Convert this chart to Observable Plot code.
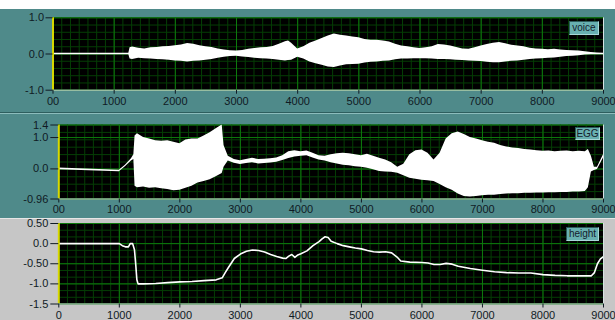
<!DOCTYPE html>
<html><head><meta charset="utf-8">
<script src="https://cdn.jsdelivr.net/npm/d3@7"></script>
<script src="https://cdn.jsdelivr.net/npm/@observablehq/plot@0.6"></script>
<style>
body{margin:0;width:615px;height:320px;background:#fff;position:relative;overflow:hidden;font-family:"Liberation Sans",Arial,sans-serif}
.panel{position:absolute;left:0;width:615px}
.panel svg{display:block;overflow:visible}
.tag{position:absolute;font-size:10px;line-height:12px;color:#14202c;background:#68b0b0;border:1px solid #2c5a5a;border-right-color:#a8d8d8;border-bottom-color:#a8d8d8;text-align:center;box-sizing:border-box}
</style></head><body>
<div id="p1" class="panel" style="top:9px;height:104px;background:#4f8a8a;border-bottom:1px solid #2e5e5e;box-sizing:border-box"></div>
<div id="p2" class="panel" style="top:113px;height:105px;background:#4f8a8a;border-top:1px solid #8cbcbc;box-sizing:border-box"></div>
<div id="p3" class="panel" style="top:218px;height:102px;background:#c6c6c6;border-top:1px solid #e6e6e6;box-sizing:border-box"></div>
<div class="tag" style="left:569px;top:21px;width:30px;height:14px">voice</div>
<div class="tag" style="left:575px;top:127px;width:25px;height:13px">EGG</div>
<div class="tag" style="left:566px;top:227px;width:33px;height:14px">height</div>
<script>
// ---- data ----
const xTickValues = [0,1000,2000,3000,4000,5000,6000,7000,8000,9000];
const xTickLabelsTop = ["00","1000","2000","3000","4000","5000","6000","7000","8000","9000"];
const xTickLabelsBottom = ["0","1000","2000","3000","4000","5000","6000","7000","8000","9000"];

const voiceTicks = [1.0, 0.0, -1.0];
const voiceTickLabels = ["1.0", "0.0", "-1.0"];
const eggTicks = [1.4, 1.0, 0.0, -0.96];
const eggTickLabels = ["1.4", "1.0", "0.0", "-0.96"];
const heightTicks = [0.5, 0.0, -0.5, -1.0, -1.5];
const heightTickLabels = ["0.50", "0.0", "-0.50", "-1.0", "-1.5"];

const voiceX = [0,1240,1260,1300,1400,1500,1600,1700,1800,1900,2000,2100,2200,2300,2400,2500,2600,2700,2800,2900,3000,3100,3200,3300,3400,3500,3600,3700,3800,3850,3900,4000,4100,4200,4300,4400,4500,4600,4700,4800,4900,5000,5100,5200,5300,5400,5500,5600,5700,5800,5900,6000,6100,6200,6300,6400,6500,6600,6700,6800,6900,7000,7100,7200,7300,7400,7500,7600,7700,7800,7900,8000,8100,8200,8300,8400,8500,8600,8700,8800,8900,9000];
const voiceUpper = [0.02,0.02,0.17,0.19,0.16,0.14,0.17,0.18,0.2,0.21,0.23,0.25,0.29,0.27,0.23,0.2,0.18,0.14,0.11,0.09,0.08,0.1,0.13,0.15,0.17,0.18,0.21,0.27,0.34,0.36,0.3,0.14,0.2,0.3,0.36,0.43,0.5,0.55,0.52,0.5,0.47,0.45,0.4,0.38,0.38,0.36,0.33,0.27,0.22,0.2,0.17,0.15,0.17,0.2,0.26,0.25,0.22,0.18,0.14,0.13,0.17,0.22,0.26,0.3,0.32,0.28,0.24,0.22,0.2,0.16,0.14,0.13,0.12,0.13,0.11,0.1,0.09,0.08,0.06,0.04,0.03,0.02];
const voiceLower = [-0.02,-0.02,-0.14,-0.15,-0.12,-0.13,-0.14,-0.15,-0.16,-0.17,-0.19,-0.2,-0.22,-0.2,-0.19,-0.17,-0.15,-0.12,-0.09,-0.07,-0.06,-0.08,-0.1,-0.12,-0.13,-0.14,-0.15,-0.17,-0.19,-0.18,-0.17,-0.09,-0.14,-0.22,-0.27,-0.31,-0.36,-0.37,-0.33,-0.3,-0.29,-0.28,-0.25,-0.23,-0.22,-0.2,-0.19,-0.16,-0.14,-0.14,-0.13,-0.13,-0.13,-0.14,-0.15,-0.15,-0.16,-0.17,-0.18,-0.19,-0.2,-0.21,-0.23,-0.24,-0.24,-0.22,-0.2,-0.19,-0.17,-0.15,-0.14,-0.13,-0.12,-0.11,-0.09,-0.07,-0.06,-0.05,-0.03,-0.02,-0.02,-0.02];

const eggX = [0,1000,1100,1200,1240,1260,1300,1400,1500,1600,1700,1800,1900,2000,2100,2200,2300,2400,2500,2600,2700,2730,2800,2900,3000,3100,3200,3300,3400,3500,3600,3700,3800,3900,4000,4100,4200,4300,4400,4500,4600,4700,4800,4900,5000,5100,5200,5300,5400,5500,5600,5700,5800,5900,6000,6100,6200,6300,6400,6500,6600,6700,6800,6900,7000,7100,7200,7300,7400,7500,7600,7700,7800,7900,8000,8100,8200,8300,8400,8500,8600,8700,8750,8800,8850,8900,9000];
const eggUpper = [0.03,-0.04,0.12,0.32,0.45,1.05,1.12,1.0,0.95,0.9,0.88,0.9,0.85,0.8,0.92,0.95,0.95,1.05,1.15,1.28,1.4,0.75,0.4,0.3,0.26,0.3,0.34,0.3,0.31,0.32,0.35,0.42,0.55,0.58,0.55,0.57,0.5,0.42,0.4,0.45,0.48,0.5,0.48,0.45,0.42,0.47,0.4,0.34,0.28,0.2,0.05,0.15,0.45,0.58,0.6,0.5,0.28,0.5,0.95,1.12,1.18,1.1,1.0,0.95,0.9,0.85,0.82,0.75,0.7,0.67,0.65,0.62,0.6,0.58,0.56,0.57,0.55,0.56,0.57,0.55,0.56,0.55,0.62,0.4,0.05,0.05,0.45];
const eggLower = [-0.03,-0.09,0.07,0.25,0.3,-0.55,-0.6,-0.58,-0.62,-0.6,-0.63,-0.66,-0.7,-0.68,-0.62,-0.55,-0.45,-0.4,-0.35,-0.25,-0.15,0.05,0.25,0.18,0.14,0.17,0.2,0.16,0.17,0.19,0.21,0.27,0.33,0.38,0.4,0.42,0.35,0.28,0.25,0.2,0.16,0.12,0.1,0.07,0.05,0.02,-0.03,-0.08,-0.1,-0.11,-0.14,-0.22,-0.3,-0.33,-0.36,-0.38,-0.4,-0.5,-0.6,-0.68,-0.8,-0.88,-0.9,-0.88,-0.86,-0.84,-0.84,-0.82,-0.8,-0.79,-0.79,-0.78,-0.78,-0.77,-0.77,-0.76,-0.76,-0.75,-0.75,-0.74,-0.74,-0.72,-0.6,-0.1,-0.05,-0.02,0.35];

const heightX = [0,1000,1050,1100,1150,1180,1220,1250,1270,1290,1310,1400,1600,1800,2000,2200,2400,2600,2700,2750,2800,2900,3000,3100,3200,3300,3400,3500,3600,3700,3750,3800,3850,3900,3950,4000,4100,4200,4300,4350,4400,4450,4500,4600,4700,4800,4900,5000,5100,5200,5300,5400,5500,5600,5650,5800,6000,6100,6200,6300,6400,6500,6600,6800,7000,7200,7400,7600,7800,8000,8200,8400,8600,8800,8850,8900,8950,9000];
const heightY = [0,0,-0.05,-0.08,-0.08,0.0,0.0,-0.15,-0.5,-0.9,-1.0,-1.0,-0.99,-0.97,-0.95,-0.94,-0.92,-0.9,-0.85,-0.72,-0.6,-0.37,-0.26,-0.19,-0.16,-0.17,-0.21,-0.27,-0.32,-0.36,-0.37,-0.31,-0.27,-0.34,-0.28,-0.25,-0.18,-0.05,0.05,0.12,0.17,0.15,0.06,0.0,-0.05,-0.08,-0.11,-0.13,-0.17,-0.2,-0.21,-0.2,-0.23,-0.35,-0.43,-0.46,-0.47,-0.48,-0.52,-0.52,-0.49,-0.51,-0.56,-0.62,-0.66,-0.7,-0.72,-0.73,-0.73,-0.77,-0.79,-0.8,-0.8,-0.8,-0.72,-0.5,-0.38,-0.32];

// ---- tables built from arrays ----
const voiceData = voiceX.map((x, i) => ({x, lo: voiceLower[i], hi: voiceUpper[i]}));
const eggData = eggX.map((x, i) => ({x, lo: eggLower[i], hi: eggUpper[i]}));
const heightData = heightX.map((x, i) => ({x, y: heightY[i]}));

const MINOR = "#053e05", MAJOR = "#0d7a0d";

function makePanel({height, mt, mb, ml, yDomain, yTicks, yLabels, yDiv, xLabels, ySize, yPad, xPad, signal}) {
  const xMinor = d3.range(0, 63).map(k => k * 9000 / 63);
  const yMinor = d3.range(0, yDiv + 1).map(k => yDomain[0] + k * (yDomain[1] - yDomain[0]) / yDiv);
  return Plot.plot({
    width: 615, height,
    marginTop: mt, marginBottom: mb, marginLeft: ml, marginRight: 12,
    x: {domain: [0, 9000], label: null},
    y: {domain: yDomain, label: null},
    style: {background: "transparent", color: "#101a24", fontFamily: "'Liberation Sans', Arial, sans-serif", fontSize: "11px", overflow: "visible"},
    marks: [
      Plot.frame({fill: "black"}),
      Plot.ruleX(xMinor, {stroke: MINOR, strokeWidth: 1}),
      Plot.ruleY(yMinor, {stroke: MINOR, strokeWidth: 1}),
      Plot.ruleX(xTickValues, {stroke: MAJOR, strokeWidth: 1}),
      Plot.ruleY(yTicks, {stroke: MAJOR, strokeWidth: 1}),
      ...signal,
      Plot.ruleX([0], {stroke: "#d8d800", strokeWidth: 2}),
      Plot.frame({anchor: "bottom", stroke: "#d6e2e2"}),
      Plot.frame({anchor: "right", stroke: "#d6e2e2"}),
      Plot.axisX(xTickValues, {tickFormat: d => xLabels[xTickValues.indexOf(d)], tickSize: 4, tickPadding: xPad, label: null}),
      Plot.axisY(yTicks, {tickFormat: d => yLabels[yTicks.indexOf(d)], tickSize: ySize, tickPadding: yPad, label: null})
    ]
  });
}

document.getElementById("p1").append(makePanel({
  height: 104, mt: 8.3, mb: 23.3, ml: 52.5,
  yDomain: [-1, 1], yTicks: voiceTicks, yLabels: voiceTickLabels, yDiv: 10,
  xLabels: xTickLabelsTop, ySize: 7, yPad: 2, xPad: 2.5,
  signal: [Plot.areaY(voiceData, {x: "x", y1: "lo", y2: "hi", fill: "white", clip: true})]
}));
document.getElementById("p2").append(makePanel({
  height: 105, mt: 10.5, mb: 20.5, ml: 58.3,
  yDomain: [-0.96, 1.4], yTicks: eggTicks, yLabels: eggTickLabels, yDiv: 10,
  xLabels: xTickLabelsTop, ySize: 8, yPad: 2.5, xPad: 2.5,
  signal: [Plot.areaY(eggData, {x: "x", y1: "lo", y2: "hi", fill: "white", clip: true})]
}));
document.getElementById("p3").append(makePanel({
  height: 102, mt: 4, mb: 17.5, ml: 58.3,
  yDomain: [-1.5, 0.5], yTicks: heightTicks, yLabels: heightTickLabels, yDiv: 12,
  xLabels: xTickLabelsBottom, ySize: 8, yPad: 2.5, xPad: 3.5,
  signal: [Plot.line(heightData, {x: "x", y: "y", stroke: "white", strokeWidth: 1.6, clip: true})]
}));
</script>
</body></html>
